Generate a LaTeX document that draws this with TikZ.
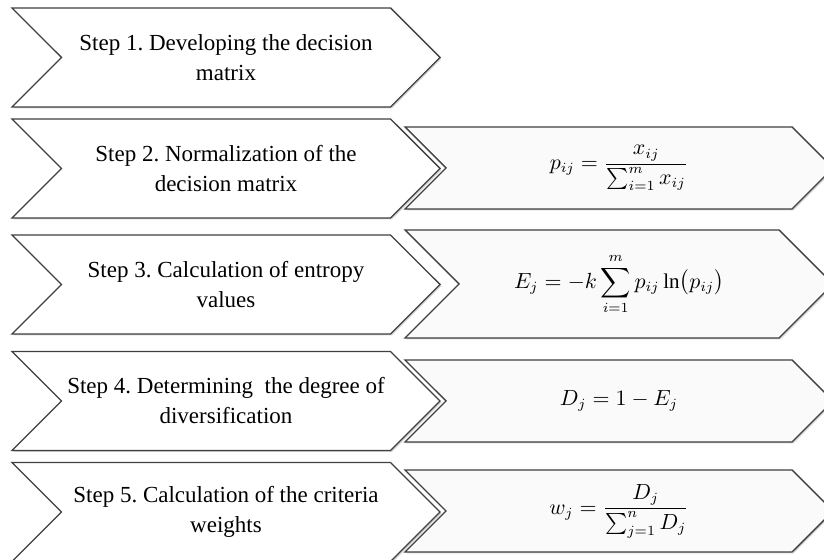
\documentclass[tikz,border=0pt]{standalone}
\usepackage{amsmath,amssymb}
\usepackage{fontspec}
\setmainfont{Liberation Serif}
\usetikzlibrary{shapes.symbols,shadows}
\frenchspacing

\begin{document}
\begin{tikzpicture}[x=0.5pt,y=-0.5pt,
    stepbox/.style={signal,signal from=west,signal to=east,signal pointer angle=90,
        draw=black!75,line width=0.7pt,fill=white,inner sep=0pt,
        drop shadow={shadow xshift=0.7pt,shadow yshift=-0.7pt,opacity=0.35},
        minimum width=214pt,minimum height=49.5pt,align=center,
        font=\fontsize{11.5}{15}\selectfont},
    formbox/.style={stepbox,minimum height=41pt,fill=black!2,font=\fontsize{10.5}{13}\selectfont}]
            \useasboundingbox (0,0) rectangle (824,560);
            \node[stepbox] (s1) at (226,57.5) {Step 1. Developing the decision\\matrix};
            \node[stepbox] (s2) at (226,168.5) {Step 2. Normalization of the\\decision matrix};
            \node[stepbox] (s3) at (226,284.5) {Step 3. Calculation of entropy\\values};
            \node[stepbox] (s4) at (226,401) {Step 4. Determining \ the degree of\\diversification};
            \node[stepbox] (s5) at (226,512) {Step 5. Calculation of the criteria\\weights};
            \node[formbox] (f2) at (619,168) {$\displaystyle p_{ij}=\frac{x_{ij}}{\sum_{i=1}^{m}x_{ij}}$};
            \node[formbox,minimum height=54pt] (f3) at (619,284) {$\displaystyle E_j=-k\sum_{i=1}^{m}p_{ij}\ln\bigl(p_{ij}\bigr)$};
            \node[formbox] (f4) at (619,401) {$D_j=1-E_j$};
            \node[formbox] (f5) at (619,511) {$\displaystyle w_j=\frac{D_j}{\sum_{j=1}^{n}D_j}$};
        \end{tikzpicture}
\end{document}
